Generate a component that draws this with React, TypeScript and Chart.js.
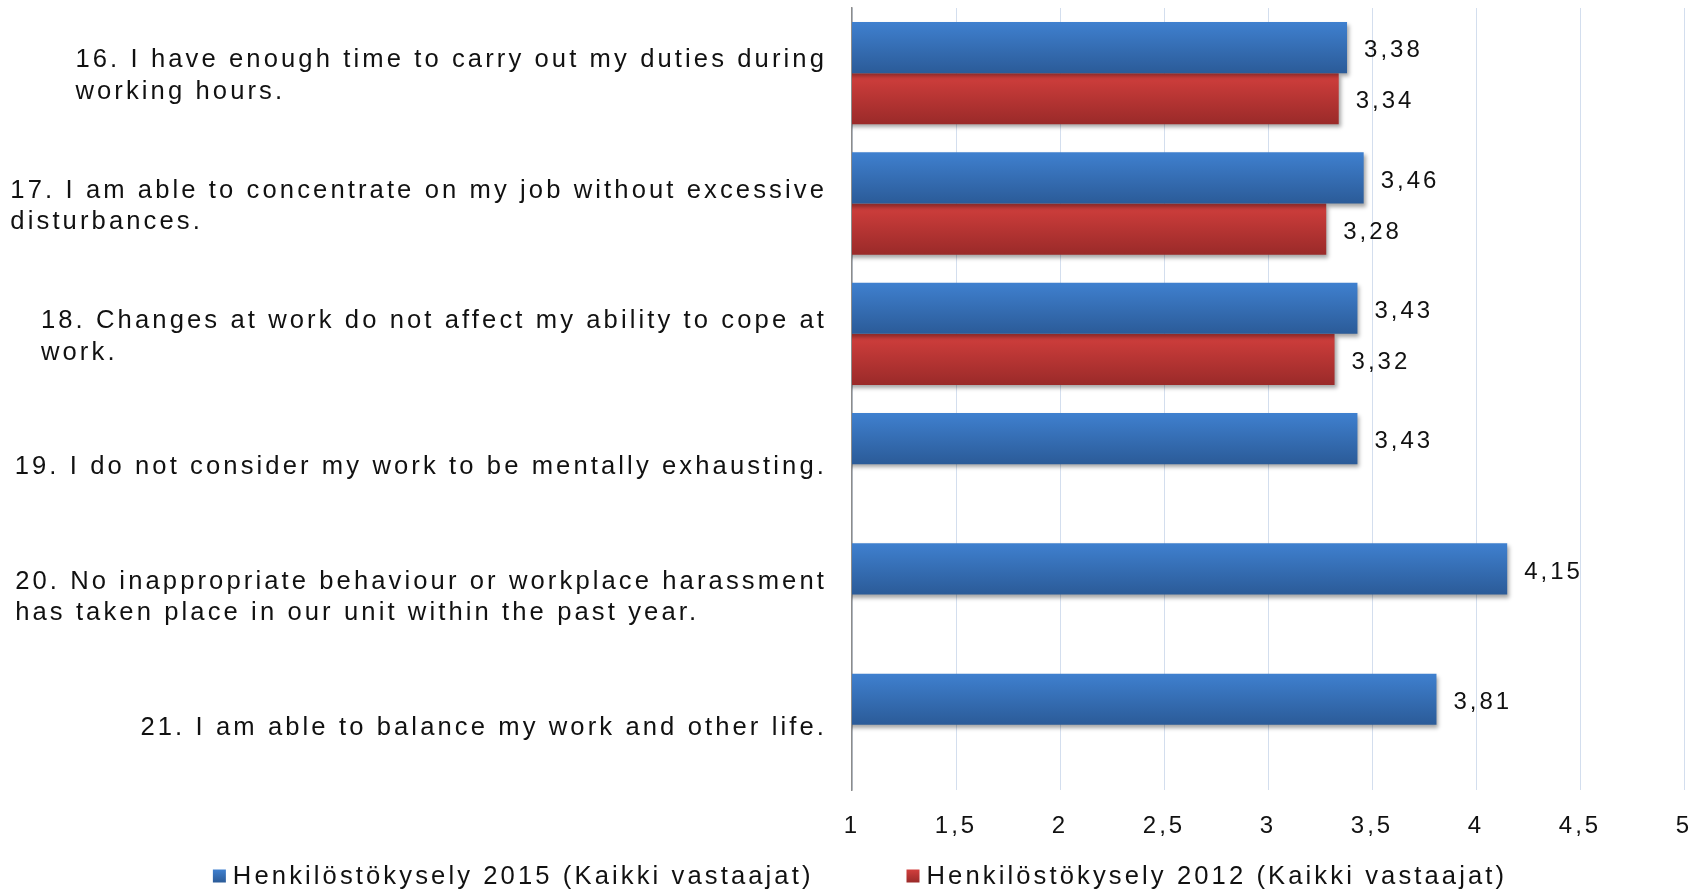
import React, { useEffect, useRef } from "react";
import { Chart, registerables } from "chart.js";

Chart.register(...registerables);

// ---- data ----
const questionLines: string[][] = [
  ["16. I have enough time to carry out my duties during", "working hours."],
  ["17. I am able to concentrate on my job without excessive", "disturbances."],
  ["18. Changes at work do not affect my ability to cope at", "work."],
  ["19. I do not consider my work to be mentally exhausting."],
  ["20. No inappropriate behaviour or workplace harassment", "has taken place in our unit within the past year."],
  ["21. I am able to balance my work and other life."],
];
const series2015: (number | null)[] = [3.38, 3.46, 3.43, 3.43, 4.15, 3.81];
const series2012: (number | null)[] = [3.34, 3.28, 3.32, null, null, null];
const seriesNames = [
  "Henkilöstökysely 2015 (Kaikki vastaajat)",
  "Henkilöstökysely 2012 (Kaikki vastaajat)",
];
const xMin = 1;
const xMax = 5;
const xStep = 0.5;

// ---- styles ----
const FONT = "'Liberation Sans', Arial, sans-serif";
const SPACING = "3px";
const LABEL_SPACING = "3.1px";
const CAT_PCT = 0.785;
const BLUE = ["#3f80cf", "#2b5b98"];
const RED = ["#d23f3d", "#9a2a29"];
const TEXT = "#111111";

const fmt = (v: number, digits?: number) =>
  (digits === undefined ? String(v) : v.toFixed(digits)).replace(".", ",");

const gradientFor = (colors: string[], dsIndex: number) => (ctx: any) => {
  const chart = ctx.chart;
  const area = chart.chartArea;
  const y = chart.scales?.y;
  if (!area || !y || ctx.type !== "data") return colors[0];
  const center = y.getPixelForValue(ctx.dataIndex);
  const band = area.height / questionLines.length;
  const th = (band * CAT_PCT) / 2;
  const y0 = dsIndex === 0 ? center - th : center;
  const g = chart.ctx.createLinearGradient(0, y0, 0, y0 + th);
  g.addColorStop(0, colors[0]);
  g.addColorStop(1, colors[1]);
  return g;
};

const spacingPlugin = {
  id: "spacing",
  beforeUpdate(chart: any) {
    chart.ctx.letterSpacing = SPACING;
  },
  beforeDraw(chart: any) {
    chart.ctx.letterSpacing = SPACING;
  },
};

const barDecor = {
  id: "barDecor",
  beforeDatasetsDraw(chart: any) {
    const c = chart.ctx;
    c.save();
    c.shadowColor = "rgba(0,0,0,0.35)";
    c.shadowBlur = 4;
    c.shadowOffsetX = 2;
    c.shadowOffsetY = 3;
  },
  afterDatasetsDraw(chart: any) {
    const c = chart.ctx;
    c.restore();
    c.save();
    c.letterSpacing = SPACING;
    c.font = `24px ${FONT}`;
    c.fillStyle = TEXT;
    c.textAlign = "left";
    c.textBaseline = "middle";
    chart.data.datasets.forEach((ds: any, di: number) => {
      const meta = chart.getDatasetMeta(di);
      meta.data.forEach((el: any, i: number) => {
        const v = ds.data[i];
        if (v === null || v === undefined) return;
        c.fillText(fmt(v, 2), el.x + 17, el.y + 3);
      });
    });
    c.restore();
  },
};

const labelsAndLegend = {
  id: "labelsAndLegend",
  afterDraw(chart: any) {
    const c = chart.ctx;
    const y = chart.scales.y;
    const area = chart.chartArea;
    c.save();
    c.letterSpacing = LABEL_SPACING;
    c.fillStyle = TEXT;
    c.textBaseline = "middle";
    c.textAlign = "left";
    // category labels: block right-aligned, lines left-aligned
    c.font = `25.6px ${FONT}`;
    const lineH = 31.5;
    const rightEdge = area.left - 25;
    questionLines.forEach((lines, i) => {
      const center = y.getPixelForValue(i);
      const maxW = Math.max(...lines.map((l) => c.measureText(l).width));
      const left = rightEdge - maxW;
      const top = center - ((lines.length - 1) * lineH) / 2;
      lines.forEach((l, k) => c.fillText(l, left, top + k * lineH + 3));
    });
    // legend
    c.font = `25.6px ${FONT}`;
    const box = 13;
    const gapText = 7;
    const gapItem = 93;
    const widths = seriesNames.map((n) => c.measureText(n).width);
    const total = widths.reduce((a, w) => a + box + gapText + w, 0) + gapItem;
    let x = 860 - total / 2;
    const ly = 876;
    const cols = [BLUE, RED];
    seriesNames.forEach((n, i) => {
      const g = c.createLinearGradient(0, ly - box / 2, 0, ly + box / 2);
      g.addColorStop(0, cols[i][0]);
      g.addColorStop(1, cols[i][1]);
      c.fillStyle = g;
      c.fillRect(x, ly - box / 2, box, box);
      c.fillStyle = TEXT;
      c.fillText(n, x + box + gapText, ly + 1);
      x += box + gapText + widths[i] + gapItem;
    });
    c.restore();
  },
};

export default function App() {
  const ref = useRef<HTMLCanvasElement | null>(null);
  useEffect(() => {
    if (!ref.current) return;
    const chart = new Chart(ref.current, {
      type: "bar",
      data: {
        labels: questionLines.map((l) => l.join(" ")),
        datasets: [
          {
            label: seriesNames[0],
            data: series2015,
            backgroundColor: gradientFor(BLUE, 0),
            borderWidth: 0,
            categoryPercentage: CAT_PCT,
            barPercentage: 1,
          },
          {
            label: seriesNames[1],
            data: series2012,
            backgroundColor: gradientFor(RED, 1),
            borderWidth: 0,
            categoryPercentage: CAT_PCT,
            barPercentage: 1,
          },
        ],
      },
      options: {
        indexAxis: "y",
        animation: false,
        responsive: true,
        maintainAspectRatio: false,
        layout: { padding: { top: 8, right: 0, bottom: 0, left: 0 } },
        plugins: {
          legend: { display: false },
          tooltip: { enabled: false },
        },
        scales: {
          x: {
            min: xMin,
            max: xMax,
            ticks: {
              stepSize: xStep,
              padding: 22,
              color: TEXT,
              font: { family: FONT, size: 24 },
              callback: (v: any) => fmt(Number(v)),
            },
            grid: { color: "#d3deee", lineWidth: 1, drawTicks: false },
            border: { display: false },
            afterFit: (s: any) => {
              s.height = 102;
              s.paddingLeft = 0;
              s.paddingRight = 21;
            },
          },
          y: {
            ticks: { display: false },
            grid: { display: false, drawTicks: false },
            border: { display: true, color: "#8c8c8c", width: 1.5 },
            afterFit: (s: any) => {
              s.width = 852;
            },
          },
        },
      },
      plugins: [spacingPlugin, barDecor, labelsAndLegend],
    });
    return () => chart.destroy();
  }, []);
  return (
    <div style={{ position: "fixed", left: 0, top: 0, width: 1705, height: 892, background: "#fff" }}>
      <canvas ref={ref} />
    </div>
  );
}
